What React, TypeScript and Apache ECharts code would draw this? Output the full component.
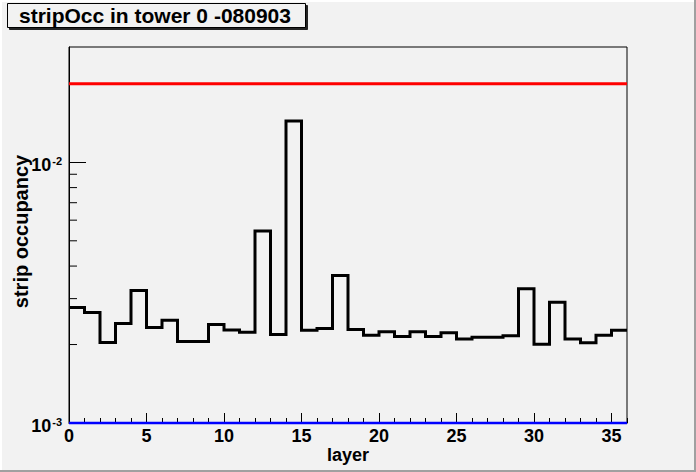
import React, { useEffect, useRef } from "react";
import * as echarts from "echarts";

// ---- data ----
const titleText = "stripOcc in tower 0 -080903";
const xAxisTitle = "layer";
const yAxisTitle = "strip occupancy";
const layerMin = 0;
const layerMax = 36;
const yMin = 0.001;
const yMax = 0.0277;
const refHigh = 0.02;
const refLow = 0.001;
const occupancy = [
  0.002773, 0.002654, 0.002038, 0.00241, 0.003227, 0.002324, 0.002478, 0.002056,
  0.002056, 0.002387, 0.002276, 0.00223, 0.005454, 0.002186, 0.01442, 0.00227,
  0.002306, 0.003681, 0.002285, 0.002173, 0.002237, 0.002148, 0.002237, 0.002148,
  0.002217, 0.002099, 0.002135, 0.002135, 0.00216, 0.003275, 0.002004, 0.002904,
  0.002099, 0.002032, 0.002173, 0.00227,
];
const yMinorTicks = [0.002, 0.003, 0.004, 0.005, 0.006, 0.007, 0.008, 0.009, 0.02];

const FONT = "'Liberation Sans', Arial, Helvetica, sans-serif";
const BG = "#f2f2f2";

export default function App() {
  const ref = useRef<HTMLDivElement>(null);
  useEffect(() => {
    if (!ref.current) return;
    const chart = echarts.init(ref.current, undefined, { renderer: "svg" });
    const stepData: number[][] = occupancy.map((v, i) => [layerMin + i, v]);
    stepData.push([layerMin + occupancy.length, occupancy[occupancy.length - 1]]);

    const isPow10 = (v: number) => {
      const l = Math.log10(v);
      return Math.abs(l - Math.round(l)) < 1e-6;
    };

    chart.setOption({
      animation: false,
      backgroundColor: BG,
      textStyle: { fontFamily: FONT },
      title: {
        text: titleText,
        left: 7,
        top: 3,
        padding: [2, 15, 2, 12],
        borderColor: "#000",
        borderWidth: 1,
        backgroundColor: BG,
        shadowColor: "rgba(0,0,0,0.85)",
        shadowBlur: 0,
        shadowOffsetX: 2,
        shadowOffsetY: 2,
        textStyle: {
          fontFamily: FONT,
          fontSize: 21,
          fontWeight: "bold",
          color: "#000",
          lineHeight: 21,
        },
      },
      grid: {
        left: 69,
        right: 69,
        top: 47,
        bottom: 49,
        containLabel: false,
        outerBoundsMode: "none",
        show: true,
        borderColor: "#000",
        borderWidth: 1,
        backgroundColor: BG,
      },
      xAxis: [
        {
          type: "value",
          min: layerMin,
          max: layerMax,
          interval: 5,
          position: "bottom",
          name: xAxisTitle,
          nameLocation: "middle",
          nameGap: 23,
          nameMoveOverlap: false,
          nameTextStyle: { fontFamily: FONT, fontSize: 18, fontWeight: "bold", color: "#000" },
          axisLine: { show: true, lineStyle: { color: "#000", width: 1 } },
          axisTick: { show: true, inside: true, length: 10, lineStyle: { color: "#000", width: 1 } },
          axisLabel: {
            show: true,
            margin: 4,
            showMaxLabel: false,
            fontFamily: FONT,
            fontSize: 18,
            fontWeight: "bold",
            color: "#000",
          },
          splitLine: { show: false },
        },
        {
          type: "value",
          min: layerMin,
          max: layerMax,
          interval: 1,
          position: "bottom",
          axisLine: { show: false },
          axisTick: { show: true, inside: true, length: 5, lineStyle: { color: "#000", width: 1 } },
          axisLabel: { show: false },
          splitLine: { show: false },
        },
      ],
      yAxis: {
        type: "log",
        logBase: 10,
        min: yMin,
        max: yMax,
        name: yAxisTitle,
        nameLocation: "middle",
        nameGap: 38,
        nameMoveOverlap: false,
        nameTextStyle: {
          fontFamily: FONT,
          fontSize: 20,
          fontWeight: "bold",
          color: "#000",
          padding: [0, 0, 0, 7],
        },
        axisLine: { show: true, lineStyle: { color: "#000", width: 1 } },
        axisTick: { show: true, inside: true, length: 17, lineStyle: { color: "#000", width: 1 } },
        axisLabel: {
          show: true,
          margin: 7,
          showMaxLabel: false,
          padding: [5, 0, 0, 0],
          formatter: (v: number) => {
            if (!isPow10(v)) return "";
            const e = Math.round(Math.log10(v));
            return `{b|10}{s|${e}}`;
          },
          rich: {
            b: { fontFamily: FONT, fontSize: 18, fontWeight: "bold", color: "#000", lineHeight: 18 },
            s: {
              fontFamily: FONT,
              fontSize: 11,
              fontWeight: "bold",
              color: "#000",
              lineHeight: 11,
              verticalAlign: "top",
              padding: [0, 0, 0, 1],
            },
          },
        },
        splitLine: { show: false },
        minorTick: { show: false },
      },
      series: [
        {
          type: "custom",
          xAxisIndex: 0,
          yAxisIndex: 0,
          silent: true,
          z: 1,
          data: yMinorTicks.map((v) => [layerMin, v]),
          renderItem: (params: any, api: any) => {
            const p = api.coord([api.value(0), api.value(1)]);
            const x0 = params.coordSys.x;
            return {
              type: "line",
              shape: { x1: x0, y1: p[1], x2: x0 + 8, y2: p[1] },
              style: { stroke: "#000", lineWidth: 1 },
            };
          },
        },
        {
          type: "line",
          xAxisIndex: 0,
          yAxisIndex: 0,
          step: "end",
          data: stepData,
          showSymbol: false,
          symbol: "none",
          silent: true,
          z: 3,
          lineStyle: { color: "#000", width: 3, join: "miter" },
        },
        {
          type: "line",
          xAxisIndex: 0,
          yAxisIndex: 0,
          data: [
            [layerMin, refHigh],
            [layerMax, refHigh],
          ],
          showSymbol: false,
          symbol: "none",
          silent: true,
          clip: false,
          z: 4,
          lineStyle: { color: "#ff0000", width: 3 },
        },
        {
          type: "line",
          xAxisIndex: 0,
          yAxisIndex: 0,
          data: [
            [layerMin, refLow],
            [layerMax, refLow],
          ],
          showSymbol: false,
          symbol: "none",
          silent: true,
          clip: false,
          z: 4,
          lineStyle: { color: "#0000ff", width: 2.5 },
        },
      ],
      graphic: [
        { type: "rect", left: 0, top: 0, shape: { width: 696, height: 2 }, style: { fill: "#ffffff" }, z: 100 },
        { type: "rect", left: 0, top: 0, shape: { width: 2, height: 472 }, style: { fill: "#ffffff" }, z: 100 },
        { type: "rect", right: 0, top: 0, shape: { width: 2, height: 472 }, style: { fill: "#a0a0a0" }, z: 101 },
        { type: "rect", left: 0, bottom: 0, shape: { width: 696, height: 2 }, style: { fill: "#a0a0a0" }, z: 101 },
      ],
    });
    return () => chart.dispose();
  }, []);
  return (
    <div
      ref={ref}
      style={{ position: "fixed", left: 0, top: 0, width: 696, height: 472 }}
    />
  );
}
